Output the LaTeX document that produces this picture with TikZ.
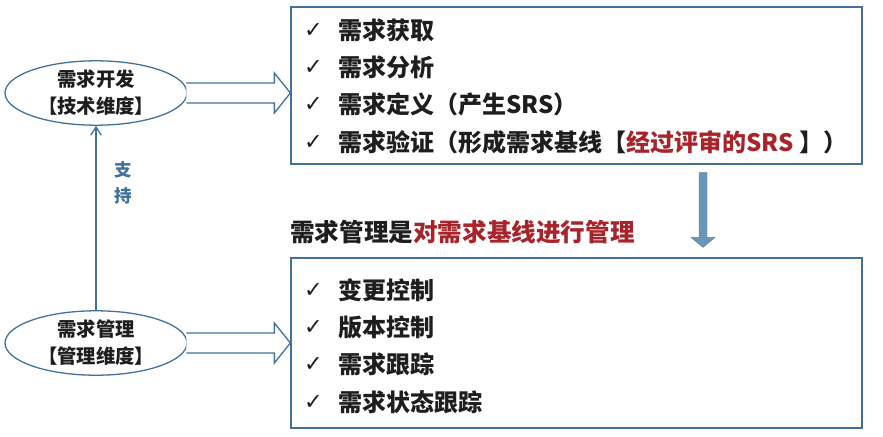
\documentclass[tikz,border=0pt]{standalone}
\usepackage{fontspec}
\setmainfont{Noto Sans CJK SC}
\newfontfamily\cjk{Noto Sans CJK SC}
\newfontfamily\symf{DejaVu Sans}
\usetikzlibrary{shapes.geometric,arrows.meta,calc}
\definecolor{edgeblue}{HTML}{41719C}
\definecolor{fillblue}{HTML}{6A96BA}
\definecolor{redtxt}{HTML}{A8232A}
\definecolor{txt}{HTML}{1E1E1E}
\begin{document}
\begin{tikzpicture}[x=0.03cm,y=-0.03cm,
  listbox/.style={draw=edgeblue,line width=1.1pt,minimum width=571*0.03cm,inner sep=0},
  oval/.style={ellipse,draw=edgeblue,line width=1.1pt,minimum width=182*0.03cm,minimum height=63*0.03cm,inner sep=0,align=center,font=\cjk\bfseries\fontsize{16.5}{23}\selectfont,text=txt},
  chk/.style={anchor=west,font=\symf\fontsize{19}{19}\selectfont,text=txt,inner sep=0},
  item/.style={anchor=west,font=\cjk\bfseries\fontsize{20.5}{20.5}\selectfont,text=txt,inner sep=0},
  blockarrow/.style={draw=edgeblue,line width=1.1pt,fill=white,line join=miter},
  conn/.style={draw=edgeblue,line width=1.1pt}
]
\useasboundingbox (0,0) rectangle (883,436);
% boxes
\node[listbox,minimum height=157*0.03cm] (dev) at (576.5,85.5) {};
\node[listbox,minimum height=170*0.03cm] (mgmt) at (576.5,343) {};
% ellipses
\node[oval] (e1) at (96,93) {需求开发\\【技术维度】};
\node[oval] (e2) at (96,343) {需求管理\\【管理维度】};
% list items top
\foreach \y/\t [count=\i] in {30/需求获取,67/需求分析,104/需求定义（产生SRS）}{
  \node[chk] (c\i) at (304,\y) {✓};
  \node[item] (t\i) at (338,\y) {\t};
}
\node[chk] (c4) at (304,142) {✓};
\node[item] (t4) at (338,142) {需求验证（形成需求基线【\textcolor{redtxt}{经过评审的SRS} 】）};
% list items bottom
\foreach \y/\t [count=\i] in {290/变更控制,327/版本控制,364/需求跟踪,402/需求状态跟踪}{
  \node[chk] (d\i) at (304,\y) {✓};
  \node[item] (u\i) at (338,\y) {\t};
}
% caption
\node[anchor=west,inner sep=0,font=\cjk\bfseries\fontsize{21}{21}\selectfont,text=txt] (cap) at (290,232) {需求管理是\textcolor{redtxt}{对需求基线进行管理}};
% block arrows
\foreach \e/\b in {e1/dev,e2/mgmt}{
  \path let \p1=(\e.east), \p2=(\b.west) in
    [blockarrow] (\x1-1pt,\y1+10*0.03cm) -- (\x2-16*0.03cm,\y1+10*0.03cm) -- (\x2-16*0.03cm,\y1+20*0.03cm)
    -- (\x2,\y1) -- (\x2-16*0.03cm,\y1-20*0.03cm) -- (\x2-16*0.03cm,\y1-10*0.03cm) -- (\x1-1pt,\y1-10*0.03cm);
}
% down arrow
\coordinate (dtop) at ($(dev.south)+(126.5,8)$);
\coordinate (dtip) at ($(mgmt.north)+(126.5,-10)$);
\path let \p1=(dtop), \p2=(dtip) in
  [fill=fillblue,draw=fillblue!85!black,line width=0.4pt]
  (\x1-4*0.03cm,\y1) -- (\x1+4*0.03cm,\y1) -- (\x1+4*0.03cm,\y2+10*0.03cm) -- (\x1+12*0.03cm,\y2+10*0.03cm)
  -- (\x1,\y2) -- (\x1-12*0.03cm,\y2+10*0.03cm) -- (\x1-4*0.03cm,\y2+10*0.03cm) -- cycle;
% support connector
\draw[conn,-{Straight Barb[length=7pt,width=9pt]}] (e2.north) -- (e1.south);
\node[font=\cjk\bfseries\fontsize{15}{22}\selectfont,text=edgeblue,align=center,inner sep=0] (sup) at (123,183) {支\\持};
\end{tikzpicture}
\end{document}
